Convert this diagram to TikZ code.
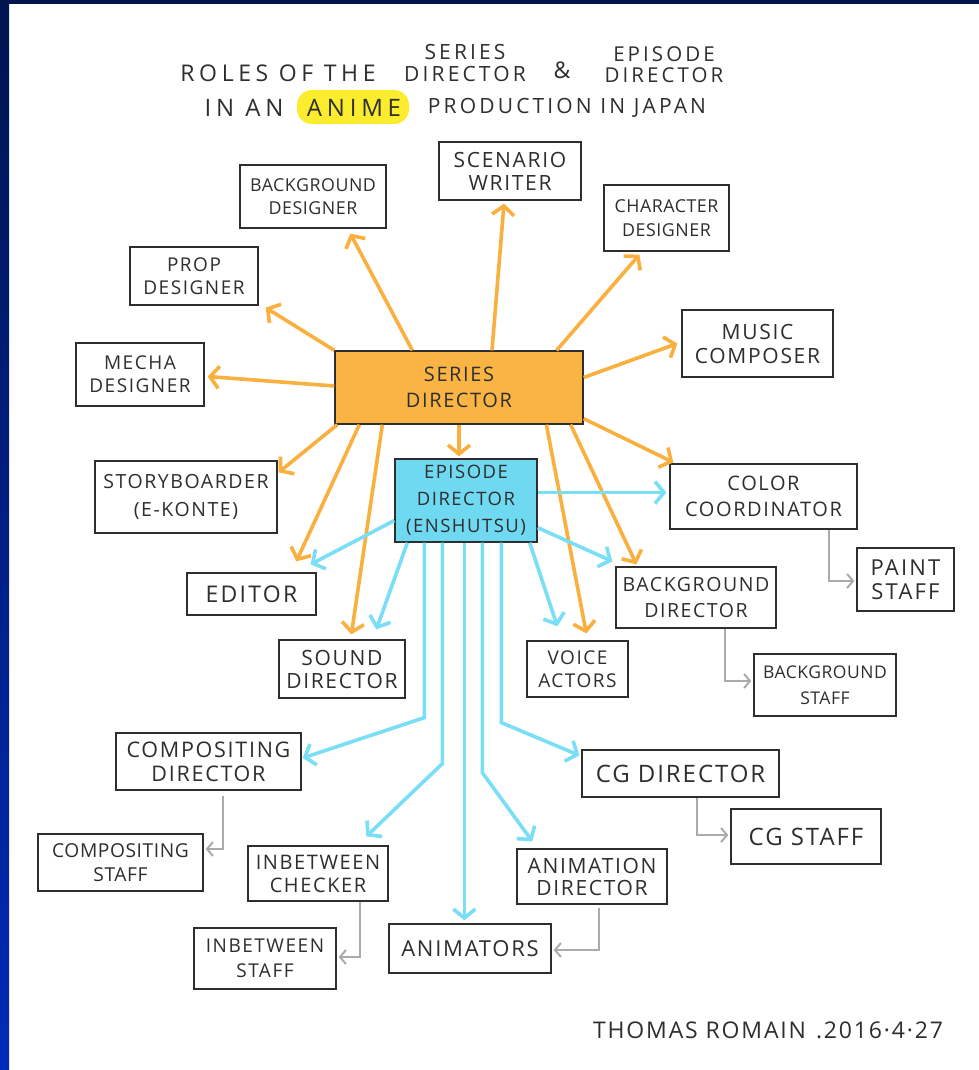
\documentclass[tikz,border=0pt]{standalone}
\usepackage{fontspec}
\setmainfont{Open Sans}
\usetikzlibrary{arrows.meta,calc}
\definecolor{navyA}{HTML}{001450}
\definecolor{navyB}{HTML}{002AB8}
\definecolor{orng}{HTML}{F9B03E}
\definecolor{orfill}{HTML}{FAB444}
\definecolor{cyanl}{HTML}{7ADEF6}
\definecolor{cyfill}{HTML}{70D9F2}
\definecolor{grayl}{HTML}{ABABAB}
\definecolor{ink}{HTML}{2E2E2E}
\definecolor{hilite}{HTML}{FCEC2E}
\newcommand\tfs[3]{\fontsize{#1}{#2}\selectfont\addfontfeature{LetterSpace=#3}}
\tikzset{
 box/.style={draw=ink, line width=1.3pt, inner sep=0pt, align=center, text=ink, font=\tfs{19}{22}{8}},
 orarrow/.style={draw=orng, line width=3.6pt, -{Straight Barb[length=9pt,width=22pt]}},
 cyarrow/.style={draw=cyanl, line width=3.6pt, -{Straight Barb[length=9pt,width=22pt]}},
 grarrow/.style={draw=grayl, line width=2pt, -{Straight Barb[length=6pt,width=14pt]}},
 ttl/.style={text=ink, inner sep=0pt, align=center},
}
\begin{document}
\begin{tikzpicture}[x=1pt,y=-1pt]
\useasboundingbox (0,0) rectangle (979,1070);
\fill[white] (0,0) rectangle (979,1070);
\shade[top color=navyA, bottom color=navyB] (0,0) rectangle (9,1070);
\fill[navyA] (0,0) rectangle (979,4);

% title
\fill[hilite, rounded corners=15pt] (297,90) rectangle (409,124);
\node[ttl, font=\tfs{23}{25}{20}] (t1) at (278,73) {ROLES OF THE};
\node[ttl, font=\tfs{21}{22}{15}] (t2) at (465,63) {SERIES\\DIRECTOR};
\node[ttl, font=\tfs{23}{25}{10}] (t3) at (562,70) {\&};
\node[ttl, font=\tfs{20.5}{21}{15}] (t4) at (664,65) {EPISODE\\DIRECTOR};
\node[ttl, font=\tfs{24}{25}{20}] (t5) at (244,108) {IN AN};
\node[ttl, font=\tfs{24}{25}{20}] (t6) at (354,108) {ANIME};
\node[ttl, font=\tfs{21}{25}{15}] (t7) at (567,108) {PRODUCTION IN JAPAN};

% boxes
\node[box, minimum width=146pt, minimum height=63pt, font=\tfs{17.8}{23}{3}] (bgd) at (313,196.5) {BACKGROUND\\DESIGNER};
\node[box, minimum width=128pt, minimum height=58pt, font=\tfs{19}{23}{8}] (prop) at (194,276) {PROP\\DESIGNER};
\node[box, minimum width=128pt, minimum height=63pt, font=\tfs{19}{23}{8}] (mecha) at (140,374.5) {MECHA\\DESIGNER};
\node[box, fill=orfill, minimum width=248pt, minimum height=73pt, font=\tfs{20}{26}{8}] (sd) at (459,387.5) {SERIES\\DIRECTOR};
\node[box, minimum width=142pt, minimum height=58pt, font=\tfs{21}{23}{8}] (scen) at (510,171) {SCENARIO\\WRITER};
\node[box, minimum width=125pt, minimum height=66pt, font=\tfs{17.8}{24}{3}] (char) at (666.5,218) {CHARACTER\\DESIGNER};
\node[box, minimum width=151pt, minimum height=67pt, font=\tfs{21}{24}{8}] (music) at (757.5,343.5) {MUSIC\\COMPOSER};
\node[box, minimum width=182pt, minimum height=72pt, font=\tfs{19.5}{28}{8}] (story) at (186,497) {STORYBOARDER\\(E-KONTE)};
\node[box, minimum width=129pt, minimum height=42pt, font=\tfs{23}{24}{10}] (editor) at (251.5,594) {EDITOR};
\node[box, minimum width=126pt, minimum height=58pt, font=\tfs{21}{23}{8}] (sound) at (342,669) {SOUND\\DIRECTOR};
\node[box, fill=cyfill, minimum width=142pt, minimum height=83pt, font=\tfs{18.5}{27}{8}] (ed) at (466,500.5) {EPISODE\\DIRECTOR\\(ENSHUTSU)};
\node[box, minimum width=187pt, minimum height=65pt, font=\tfs{20}{26}{8}] (color) at (763.5,496.5) {COLOR\\COORDINATOR};
\node[box, minimum width=97pt, minimum height=63pt, font=\tfs{22}{24}{10}] (paint) at (905.5,579.5) {PAINT\\STAFF};
\node[box, minimum width=160pt, minimum height=61pt, font=\tfs{19.5}{26}{8}] (bgdir) at (696,597.5) {BACKGROUND\\DIRECTOR};
\node[box, minimum width=101pt, minimum height=56pt, font=\tfs{19}{23}{8}] (voice) at (577.5,669) {VOICE\\ACTORS};
\node[box, minimum width=142pt, minimum height=62pt, font=\tfs{17.5}{26}{3}] (bgs) at (825,685) {BACKGROUND\\STAFF};
\node[box, minimum width=185pt, minimum height=57pt, font=\tfs{21.5}{24}{8}] (comp) at (208.5,761.5) {COMPOSITING\\DIRECTOR};
\node[box, minimum width=165pt, minimum height=57pt, font=\tfs{19.2}{24}{3}] (cs) at (120.5,862.5) {COMPOSITING\\STAFF};
\node[box, minimum width=140pt, minimum height=55pt, font=\tfs{20}{23}{8}] (ibc) at (318,873.5) {INBETWEEN\\CHECKER};
\node[box, minimum width=142pt, minimum height=61pt, font=\tfs{19}{25}{8}] (is) at (265,958.5) {INBETWEEN\\STAFF};
\node[box, minimum width=162pt, minimum height=49pt, font=\tfs{22}{24}{8}] (anim) at (470,948.5) {ANIMATORS};
\node[box, minimum width=197pt, minimum height=47pt, font=\tfs{24}{26}{8}] (cgd) at (680.5,773.5) {CG DIRECTOR};
\node[box, minimum width=150pt, minimum height=55pt, font=\tfs{24}{26}{8}] (cgs) at (806,836.5) {CG STAFF};
\node[box, minimum width=150pt, minimum height=55pt, font=\tfs{21}{22}{8}] (animd) at (592,876.5) {ANIMATION\\DIRECTOR};

% orange arrows from series director
\draw[orarrow] ($(sd.north west)+(78,0)$) -- ($(bgd.south west)+(111,5)$);
\draw[orarrow] (sd.north west) -- ($(prop.south east)+(7,2)$);
\draw[orarrow] ($(sd.west)+(0,-1.5)$) -- ($(mecha.east)+(3,2)$);
\draw[orarrow] ($(sd.north)+(33,0)$) -- ($(scen.south)+(-6,3)$);
\draw[orarrow] ($(sd.north east)+(-27,0)$) -- ($(char.south west)+(36,3)$);
\draw[orarrow] ($(sd.east)+(0,-10)$) -- ($(music.west)+(-4,0)$);
\draw[orarrow] ($(sd.south east)+(0,-6)$) -- ($(color.north west)+(4,-1)$);
\draw[orarrow] (sd.south) -- ($(sd.south |- ed.north)+(0,-2)$);
\draw[orarrow] ($(sd.south west)+(3,0)$) -- ($(story.north east)+(1,12)$);
\draw[orarrow] ($(sd.south west)+(25,0)$) -- ($(editor.north west)+(110,-11)$);
\draw[orarrow] ($(sd.south west)+(48,0)$) -- ($(sound.north west)+(73,-5)$);
\draw[orarrow] ($(sd.south west)+(212,0)$) -- ($(voice.north west)+(60,-7)$);
\draw[orarrow] ($(sd.south east)+(-13,0)$) -- ($(bgdir.north west)+(21,-2)$);

% cyan arrows from episode director
\draw[cyarrow] ($(ed.east)+(0,-8)$) -- ($(color.west)+(-3,-4)$);
\draw[cyarrow] ($(ed.west)+(0,20)$) -- ($(editor.north east)+(-6,-8)$);
\draw[cyarrow] ($(ed.south west)+(13,0)$) -- ($(sound.north west)+(98,-10)$);
\draw[cyarrow] ($(ed.south east)+(0,-15)$) -- ($(bgdir.north west)+(-3,-5)$);
\draw[cyarrow] ($(ed.south east)+(-8,0)$) -- ($(voice.north west)+(31,-14)$);
\draw[cyarrow] ($(ed.south west)+(30,0)$) -- ++(0,175) -- ($(comp.east)+(1,-3.5)$);
\draw[cyarrow] ($(ed.south west)+(48,0)$) -- ++(0,221) -- ($(ibc.north west)+(119,-9)$);
\draw[cyarrow] ($(ed.south west)+(70,0)$) -- ($(anim.north west)+(76,-3)$);
\draw[cyarrow] ($(ed.south west)+(88,0)$) -- ++(0,230) -- ($(animd.north west)+(16,-7)$);
\draw[cyarrow] ($(ed.south west)+(107,0)$) -- ++(0,180) -- ($(cgd.north west)+(-2,6)$);

% gray connectors
\draw[grarrow] ($(color.south west)+(160,0)$) |- ($(paint.west)+(-2,1.5)$);
\draw[grarrow] ($(bgdir.south west)+(110,0)$) |- ($(bgs.west)+(-2,-4)$);
\draw[grarrow] ($(comp.south west)+(108,5)$) |- ($(cs.east)+(2,-13.5)$);
\draw[grarrow] ($(ibc.south west)+(113,0)$) |- ($(is.east)+(2,-1.5)$);
\draw[grarrow] ($(cgd.south west)+(116,0)$) |- ($(cgs.west)+(-2,-1.5)$);
\draw[grarrow] ($(animd.south west)+(83,3)$) |- ($(anim.east)+(2,1.5)$);

% signature
\node[ttl, font=\tfs{23}{25}{8}] (sig) at (768,1030) {THOMAS ROMAIN\hspace{10pt}.2016·4·27};
\end{tikzpicture}
\end{document}
